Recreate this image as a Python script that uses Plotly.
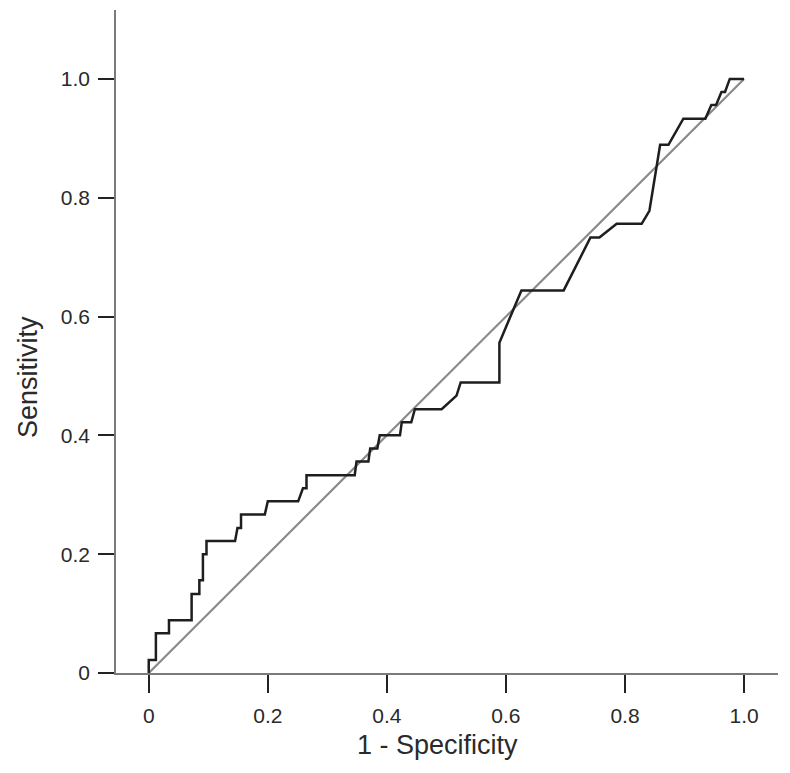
import plotly.graph_objects as go

# ROC curve points (1 - specificity, sensitivity)
fpr = [0.000, 0.000, 0.012, 0.012, 0.034, 0.034, 0.072, 0.072, 0.085, 0.085,
       0.091, 0.091, 0.097, 0.097, 0.145, 0.149, 0.155, 0.155, 0.195, 0.200,
       0.251, 0.259, 0.265, 0.265, 0.346, 0.349, 0.369, 0.372, 0.384, 0.388,
       0.422, 0.425, 0.441, 0.447, 0.492, 0.517, 0.524, 0.589, 0.589, 0.626,
       0.697, 0.742, 0.757, 0.786, 0.828, 0.841, 0.859, 0.873, 0.898, 0.929,
       0.935, 0.945, 0.953, 0.962, 0.968, 0.976, 1.000]
tpr = [0.000, 0.022, 0.022, 0.067, 0.067, 0.089, 0.089, 0.133, 0.133, 0.156,
       0.156, 0.200, 0.200, 0.222, 0.222, 0.244, 0.244, 0.267, 0.267, 0.289,
       0.289, 0.311, 0.311, 0.333, 0.333, 0.356, 0.356, 0.378, 0.378, 0.400,
       0.400, 0.422, 0.422, 0.444, 0.444, 0.467, 0.489, 0.489, 0.556, 0.644,
       0.644, 0.733, 0.733, 0.756, 0.756, 0.778, 0.889, 0.889, 0.933, 0.933,
       0.933, 0.956, 0.956, 0.978, 0.978, 1.000, 1.000]

ref_x = [0, 1]
ref_y = [0, 1]

x_ticks = [0, 0.2, 0.4, 0.6, 0.8, 1.0]
x_tick_labels = ["0", "0.2", "0.4", "0.6", "0.8", "1.0"]
y_ticks = [0, 0.2, 0.4, 0.6, 0.8, 1.0]
y_tick_labels = ["0", "0.2", "0.4", "0.6", "0.8", "1.0"]

FONT = "Liberation Sans, Arial, sans-serif"
TXT = "#2a2a2a"

fig = go.Figure()
fig.add_trace(go.Scatter(x=ref_x, y=ref_y, mode="lines",
                         line=dict(color="#8a8a8a", width=2.2),
                         hoverinfo="skip", showlegend=False))
fig.add_trace(go.Scatter(x=fpr, y=tpr, mode="lines",
                         line=dict(color="#1e1e1e", width=2.5),
                         showlegend=False))

fig.update_layout(
    width=780, height=763,
    margin=dict(l=108, r=10, t=2, b=98),
    paper_bgcolor="white", plot_bgcolor="white",
    font=dict(family=FONT, color=TXT),
    xaxis=dict(range=[-0.055, 1.057], showgrid=False, zeroline=False,
               showline=True, linecolor="#7a7a7a", linewidth=1.6,
               ticks="outside", ticklen=18, tickwidth=2, tickcolor="#222222",
               tickvals=x_ticks, ticktext=x_tick_labels,
               tickfont=dict(size=21, color=TXT),
               ticklabelstandoff=5, fixedrange=True),
    yaxis=dict(range=[0, 1.116], showgrid=False, zeroline=False,
               showline=True, linecolor="#7a7a7a", linewidth=1.6,
               ticks="outside", ticklen=16, tickwidth=2, tickcolor="#222222",
               tickvals=y_ticks, ticktext=y_tick_labels,
               tickfont=dict(size=21, color=TXT),
               ticklabelstandoff=4, fixedrange=True),
    annotations=[
        dict(text="1 - Specificity", x=0.485, y=-0.1086, xref="paper", yref="paper",
             showarrow=False, font=dict(size=27, color=TXT, family=FONT),
             xanchor="center", yanchor="middle"),
        dict(text="Sensitivity", x=-0.133, y=0.4465, xref="paper", yref="paper",
             showarrow=False, textangle=-90,
             font=dict(size=27, color=TXT, family=FONT),
             xanchor="center", yanchor="middle"),
    ],
)

fig.write_html("out.html")
